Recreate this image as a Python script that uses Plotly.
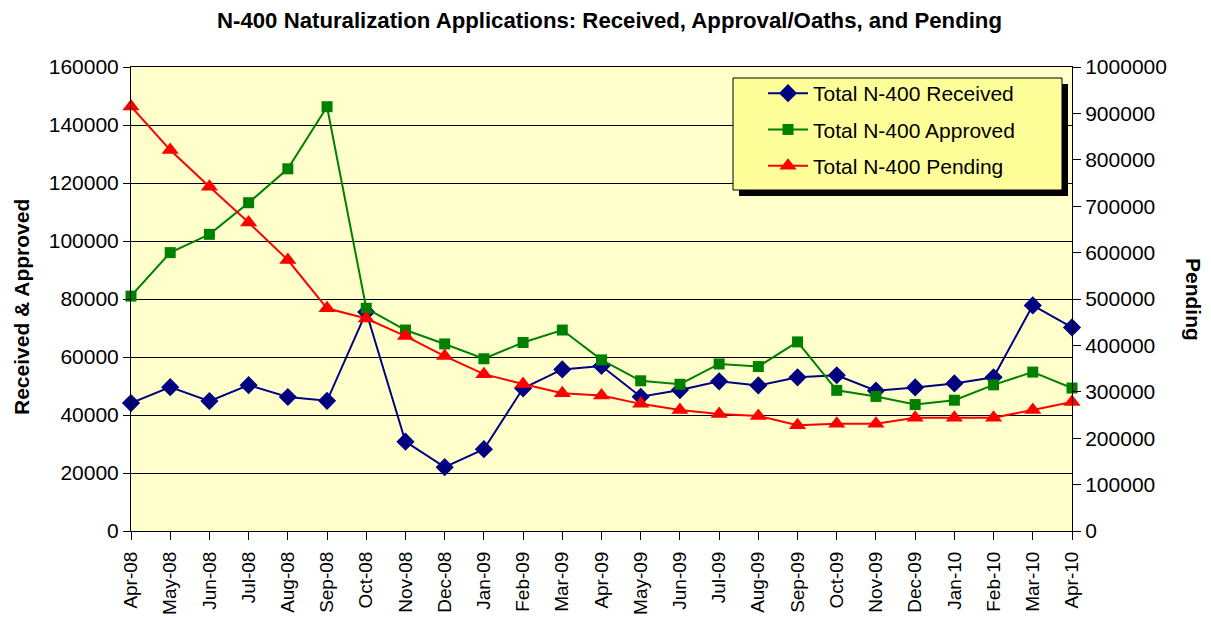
import plotly.graph_objects as go

months = ["Apr-08","May-08","Jun-08","Jul-08","Aug-08","Sep-08","Oct-08","Nov-08","Dec-08",
          "Jan-09","Feb-09","Mar-09","Apr-09","May-09","Jun-09","Jul-09","Aug-09","Sep-09",
          "Oct-09","Nov-09","Dec-09","Jan-10","Feb-10","Mar-10","Apr-10"]

received = [44100, 49600, 44800, 50300, 46200, 44900, 75500, 30800, 22000, 28200,
            49200, 55700, 56900, 46300, 48600, 51600, 50200, 53000, 53700, 48400,
            49500, 50900, 53000, 77800, 70200]

approved = [81000, 96000, 102300, 113200, 124900, 146300, 76800, 69300, 64500, 59400,
            65000, 69300, 59000, 51800, 50600, 57600, 56700, 65200, 48500, 46400,
            43600, 45100, 50400, 54800, 49300]

pending = [915000, 821000, 742000, 665000, 584000, 480000, 458000, 420000, 377000, 338000,
           317000, 297000, 292000, 274000, 261000, 252000, 248000, 228000, 231000, 231000,
           244000, 244000, 244000, 261000, 278000]

left_ticks = [0, 20000, 40000, 60000, 80000, 100000, 120000, 140000, 160000]
right_ticks = [0, 100000, 200000, 300000, 400000, 500000, 600000, 700000, 800000, 900000, 1000000]

FONT = "Arial, Liberation Sans, sans-serif"
x = list(range(len(months)))

# page has an 8px body margin; figure coordinates are page coords minus 8
OFF = 8
W, H = 1211 - OFF, 619 - OFF
L, R, T, B = 131 - OFF, 1072 - OFF, 67 - OFF, 531 - OFF

def px_x(p):
    return (p - OFF - L) / (R - L)

def px_y(p):
    return (B - (p - OFF)) / (B - T)

fig = go.Figure()
fig.add_trace(go.Scatter(
    x=x, y=received, name="Total N-400 Received", mode="lines+markers",
    line=dict(color="#000080", width=2),
    marker=dict(symbol="diamond", size=14, color="#000080"),
    cliponaxis=False, legendgroup="a"))
fig.add_trace(go.Scatter(
    x=x, y=approved, name="Total N-400 Approved", mode="lines+markers",
    line=dict(color="#008000", width=2),
    marker=dict(symbol="square", size=11, color="#008000"),
    cliponaxis=False, legendgroup="b"))
fig.add_trace(go.Scatter(
    x=x, y=pending, name="Total N-400 Pending", mode="lines+markers", yaxis="y2",
    line=dict(color="#FF0000", width=2),
    marker=dict(symbol="triangle-up", size=15, color="#FF0000"),
    cliponaxis=False, legendgroup="c"))

shapes = [
    # legend shadow
    dict(type="rect", xref="paper", yref="paper",
         x0=px_x(739), x1=px_x(1068), y0=px_y(196), y1=px_y(84),
         fillcolor="black", line=dict(width=0), layer="above"),
    # legend box
    dict(type="rect", xref="paper", yref="paper",
         x0=px_x(733), x1=px_x(1062), y0=px_y(190), y1=px_y(78),
         fillcolor="#FFFF99", line=dict(color="black", width=1), layer="above"),
]

TICKFONT = dict(size=21, family=FONT, color="black")

fig.update_layout(
    width=W, height=H,
    margin=dict(l=L, r=W - R, t=T, b=H - B),
    paper_bgcolor="white",
    plot_bgcolor="#FFFFCC",
    font=dict(family=FONT, size=21, color="black"),
    title=dict(text="<b>N-400 Naturalization Applications: Received, Approval/Oaths, and Pending</b>",
               x=0.5, xanchor="center", y=1 - (20 - OFF) / H, yanchor="middle",
               font=dict(size=22.2, family=FONT)),
    xaxis=dict(
        range=[0, len(months) - 1],
        tickmode="array", tickvals=x, ticktext=months, tickangle=-90,
        ticks="outside", ticklen=8, tickcolor="black",
        showline=True, linecolor="black", linewidth=1, mirror=True,
        showgrid=False, zeroline=False, automargin=False,
        ticklabelstandoff=4,
        tickfont=dict(size=19, family=FONT, color="black"),
    ),
    yaxis=dict(
        range=[0, 160000], tickmode="array", tickvals=left_ticks,
        ticktext=[str(v) for v in left_ticks],
        ticks="outside", ticklen=7, tickcolor="black",
        showline=True, linecolor="black", linewidth=1, automargin=False,
        showgrid=True, gridcolor="black", gridwidth=1, zeroline=False,
        tickfont=TICKFONT,
    ),
    yaxis2=dict(
        range=[0, 1000000], overlaying="y", side="right",
        tickmode="array", tickvals=right_ticks, ticktext=[str(v) for v in right_ticks],
        ticks="outside", ticklen=8, tickcolor="black",
        showline=True, linecolor="black", linewidth=1, automargin=False,
        showgrid=False, zeroline=False,
        tickfont=TICKFONT,
    ),
    legend=dict(
        x=px_x(763), y=px_y(73), xanchor="left", yanchor="top",
        bgcolor="rgba(0,0,0,0)", borderwidth=0,
        font=dict(size=21, family=FONT, color="black"),
        tracegroupgap=6, itemwidth=40,
    ),
    shapes=shapes,
    annotations=[
        dict(text="<b>Received & Approved</b>", textangle=-90, xref="paper", yref="paper",
             x=px_x(21), y=px_y(307), xanchor="center", yanchor="middle", showarrow=False,
             font=dict(size=21, family=FONT)),
        dict(text="<b>Pending</b>", textangle=90, xref="paper", yref="paper",
             x=px_x(1194), y=px_y(299), xanchor="center", yanchor="middle", showarrow=False,
             font=dict(size=21, family=FONT)),
    ],
)

fig.write_html("out.html")
